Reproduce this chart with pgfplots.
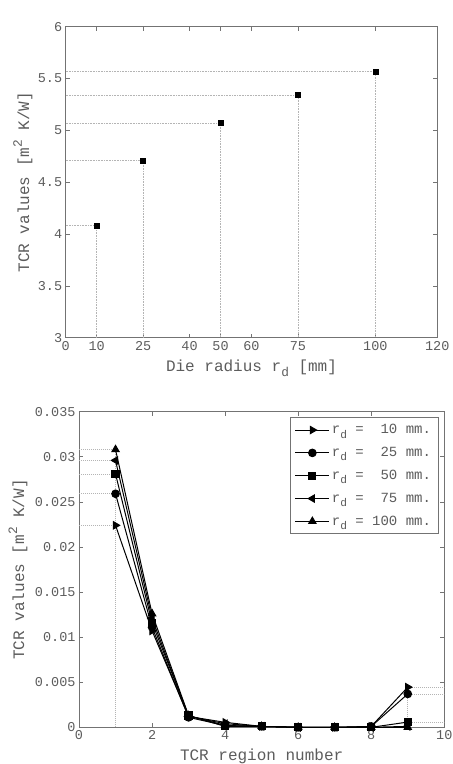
\documentclass[border=0pt]{standalone}
\usepackage{fontspec}
\setmainfont{Liberation Mono}
\usepackage{pgfplots}
\pgfplotsset{compat=1.18}

\definecolor{txt}{HTML}{5C5C5C}
\definecolor{framecol}{HTML}{737373}
\definecolor{guidecol}{HTML}{B4B4B4}

% MATLAB-like sub/superscripts: a little smaller, shifted well off the baseline
\newcommand{\sub}[1]{\raisebox{-0.55ex}{\scalebox{0.8}{#1}}}
\newcommand{\sups}[1]{\raisebox{0.85ex}{\scalebox{0.8}{#1}}}

\pgfplotsset{
  matstyle/.style={
    scale only axis,
    axis line style={framecol, line width=0.6pt},
    tick style={framecol, line width=0.6pt},
    tick align=inside,
    major tick length=4pt,
    ticklabel style={font=\fontsize{13.5}{15}\selectfont, text=txt},
    label style={font=\fontsize{16}{18}\selectfont, text=txt},
    /pgf/number format/assume math mode=true,
    scaled ticks=false,
  },
  guide/.style={guidecol, densely dotted, line width=0.6pt, forget plot, mark=none},
}

\begin{document}
\begin{tikzpicture}[x=1pt,y=1pt]
\path[use as bounding box] (0,0) rectangle (453,764);

% ---- top: TCR vs die radius
\begin{axis}[matstyle,
  at={(65.7pt,426.3pt)}, anchor=south west,
  width=371.6pt, height=311pt,
  xmin=0, xmax=120, ymin=0.003, ymax=0.006,
  xtick={0,10,25,40,50,60,75,100,120},
  ytick={0.003,0.0035,0.004,0.0045,0.005,0.0055,0.006},
  yticklabels={3,3.5,4,4.5,5,5.5,6},
  xlabel={Die radius r\sub{d} [mm]},
  ylabel={TCR values [m\sups{2} K/W]},
  xlabel style={at={(axis description cs:0.5,0)}, anchor=base, yshift=-34pt},
  ylabel style={at={(axis description cs:-0.115,0.5)}, anchor=center},
]
\addplot[guide] coordinates {(0,0.00408) (10,0.00408) (10,0.003)};
\addplot[guide] coordinates {(0,0.00471) (25,0.00471) (25,0.003)};
\addplot[guide] coordinates {(0,0.00507) (50,0.00507) (50,0.003)};
\addplot[guide] coordinates {(0,0.00534) (75,0.00534) (75,0.003)};
\addplot[guide] coordinates {(0,0.00557) (100,0.00557) (100,0.003)};
\addplot[only marks, mark=square*, mark size=2.5pt, black] coordinates {
  (10,0.00408) (25,0.00471) (50,0.00507) (75,0.00534) (100,0.00557)
};
\node[anchor=south west, text=txt, font=\fontsize{13}{15}\selectfont, inner sep=1pt]
  at (rel axis cs:0,1) {x 10\sups{-3}};
\end{axis}

% ---- bottom: TCR per region
\begin{axis}[matstyle,
  at={(79pt,36.7pt)}, anchor=south west,
  width=365.3pt, height=315.6pt,
  xmin=0, xmax=10, ymin=0, ymax=0.035,
  xtick={0,2,4,6,8,10},
  ytick={0,0.005,0.01,0.015,0.02,0.025,0.03,0.035},
  yticklabels={0,0.005,0.01,0.015,0.02,0.025,0.03,0.035},
  xlabel={TCR region number},
  ylabel={TCR values [m\sups{2} K/W]},
  xlabel style={at={(axis description cs:0.5,0)}, anchor=base, yshift=-33.4pt},
  ylabel style={at={(axis description cs:-0.167,0.5)}, anchor=center},
  legend style={at={(rel axis cs:1,1)}, anchor=north east, xshift=-6pt, yshift=-5.6pt,
    draw=framecol, line width=0.6pt, fill=white, text=txt,
    font=\fontsize{14}{16}\selectfont, row sep=8pt, inner sep=5pt},
  legend cell align=left,
  legend image code/.code={
    \draw[mark repeat=2, mark phase=2] plot coordinates {(0pt,0pt) (17pt,0pt) (34pt,0pt)};},
  every axis plot/.append style={black, line width=1pt},
]
\addplot[guide] coordinates {(1,0) (1,0.0308)};
\addplot[guide] coordinates {(0,0.0224) (1,0.0224)};
\addplot[guide] coordinates {(0,0.0259) (1,0.0259)};
\addplot[guide] coordinates {(0,0.0281) (1,0.0281)};
\addplot[guide] coordinates {(0,0.0296) (1,0.0296)};
\addplot[guide] coordinates {(0,0.0308) (1,0.0308)};
\addplot[guide] coordinates {(9,0) (9,0.00445)};
\addplot[guide] coordinates {(9,0.00445) (10,0.00445)};
\addplot[guide] coordinates {(9,0.0037) (10,0.0037)};
\addplot[guide] coordinates {(9,0.00058) (10,0.00058)};

\addplot[mark=triangle*, mark size=4.2pt, mark options={rotate=-90}] coordinates {
  (1,0.0224) (2,0.0107) (3,0.0012) (4,0.00055) (5,0.0001) (6,0) (7,0) (8,0.0001) (9,0.00445)};
\addlegendentry{r\sub{d} = \phantom{1}10 mm.}
\addplot[mark=*, mark size=3.8pt] coordinates {
  (1,0.0259) (2,0.0111) (3,0.0011) (4,0.0002) (5,0.0001) (6,0) (7,0) (8,0.0001) (9,0.0037)};
\addlegendentry{r\sub{d} = \phantom{1}25 mm.}
\addplot[mark=square*, mark size=3.6pt] coordinates {
  (1,0.0281) (2,0.0116) (3,0.0013) (4,0.0001) (5,0.0001) (6,0) (7,0) (8,0) (9,0.00058)};
\addlegendentry{r\sub{d} = \phantom{1}50 mm.}
\addplot[mark=triangle*, mark size=4.2pt, mark options={rotate=90}] coordinates {
  (1,0.0296) (2,0.0121) (3,0.0012) (4,0.0004) (5,0.0001) (6,0) (7,0) (8,0) (9,0.0001)};
\addlegendentry{r\sub{d} = \phantom{1}75 mm.}
\addplot[mark=triangle*, mark size=4.2pt] coordinates {
  (1,0.0308) (2,0.0126) (3,0.0013) (4,0.0002) (5,0.0001) (6,0) (7,0) (8,0) (9,0)};
\addlegendentry{r\sub{d} = 100 mm.}
\end{axis}
\end{tikzpicture}
\end{document}
